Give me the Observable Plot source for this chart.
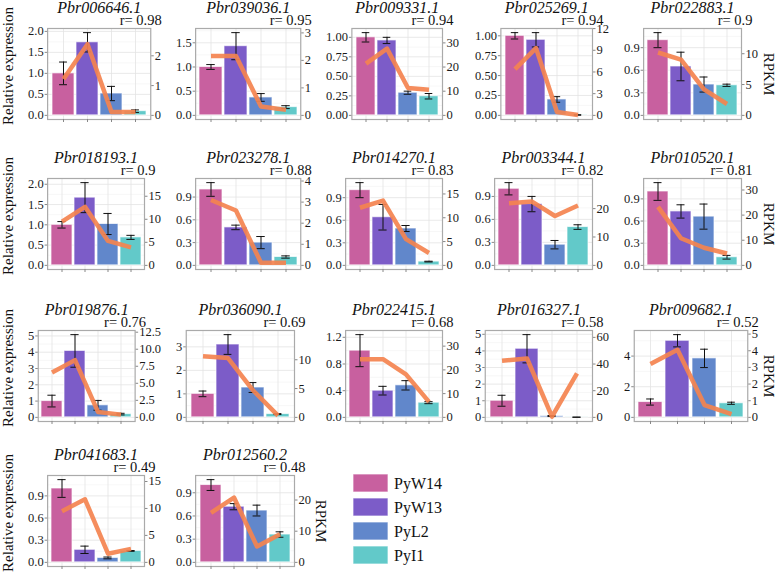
<!DOCTYPE html>
<html><head><meta charset="utf-8">
<script src="https://cdn.jsdelivr.net/npm/d3@7"></script>
<script src="https://cdn.jsdelivr.net/npm/@observablehq/plot@0.6"></script>
<style>
body{margin:0;background:#fff;}
#chart{position:relative;width:778px;height:573px;overflow:hidden;font-family:"Liberation Serif","Times New Roman",serif;background:#fff;}
#chart svg{position:absolute;overflow:visible;}
</style></head><body><div id="chart"></div>
<script>
const samples = ["PyW14", "PyW13", "PyL2", "PyI1"];
const sampleColors = ["#C8609F", "#7C5CC8", "#6187CB", "#62C9C9"];
const genes = ["Pbr006646.1","Pbr039036.1","Pbr009331.1","Pbr025269.1","Pbr022883.1",
  "Pbr018193.1","Pbr023278.1","Pbr014270.1","Pbr003344.1","Pbr010520.1",
  "Pbr019876.1","Pbr036090.1","Pbr022415.1","Pbr016327.1","Pbr009682.1",
  "Pbr041683.1","Pbr012560.2"];
const rValues = [0.98,0.95,0.94,0.94,0.9,0.9,0.88,0.83,0.82,0.81,0.76,0.69,0.68,0.58,0.52,0.49,0.48];
// relative expression (bars)
const relExpr = [
  [1,1.74,0.52,0.10],[1,1.43,0.37,0.17],[1,0.96,0.29,0.245],[1,0.95,0.20,0.005],[1,0.65,0.41,0.40],
  [1,1.67,1.02,0.69],[1,0.50,0.30,0.11],[1,0.64,0.49,0.05],[1,0.80,0.27,0.50],[1,0.73,0.66,0.11],
  [1,4.08,0.74,0.20],[1,3.10,1.27,0.14],[1,0.40,0.48,0.22],[1,4.13,0.08,0.01],[1,5.00,3.85,0.92],
  [1,0.17,0.06,0.155],[1,0.72,0.67,0.36]
];
// error (±)
const relErr = [
  [0.27,0.23,0.17,0.03],[0.05,0.28,0.08,0.03],[0.06,0.04,0.02,0.035],[0.04,0.09,0.035,0.003],[0.10,0.19,0.10,0.015],
  [0.08,0.37,0.26,0.05],[0.09,0.03,0.08,0.015],[0.10,0.17,0.04,0.005],[0.08,0.10,0.055,0.03],[0.12,0.09,0.17,0.025],
  [0.36,1.00,0.30,0.05],[0.12,0.42,0.21,0.02],[0.24,0.065,0.07,0.015],[0.33,0.85,0.03,0.005],[0.20,0.40,0.60,0.07],
  [0.12,0.05,0.012,0.005],[0.07,0.04,0.07,0.035]
];
// RPKM (line, secondary axis)
const rpkm = [
  [1.22,2.39,0.11,0.11],[2.16,2.16,0.32,0.20],[21.4,27.6,11.3,10.6],[6.4,9.3,0.46,0.05],[10.2,9.05,4.2,1.84],
  [9.5,12.7,5.3,3.9],[3.1,2.6,0.12,0.12],[12.1,13.6,5.5,2.6],[21.9,22.5,17.4,21.1],[23.3,10.8,7.0,4.7],
  [6.6,8.4,0.8,0.4],[10.6,10.3,4.7,0.3],[24.5,24.5,18.1,6.5],[42.5,44.2,0.5,33],[3.2,4.06,0.74,0.2],
  [9.5,11.7,1.6,2.5],[15.9,20.8,5.1,9.0]
];
// secondary axis factor: RPKM per unit of relative expression
const rpkmPerRel = [1.41,1.76,32.3,11.0,12.2, 8.8,3.6,15.8,27,29.4, 2.39,4.08,28.1,12.46,0.92, 13.7,24.8];
const leftTicks = [
  [0,0.5,1,1.5,2],[0,0.5,1,1.5],[0,0.25,0.5,0.75,1],[0,0.25,0.5,0.75,1],[0,0.3,0.6,0.9],
  [0,0.5,1,1.5,2],[0,0.3,0.6,0.9],[0,0.3,0.6,0.9],[0,0.3,0.6,0.9],[0,0.3,0.6,0.9],
  [0,1,2,3,4,5],[0,1,2,3],[0,0.4,0.8,1.2],[0,1,2,3,4,5],[0,2,4],
  [0,0.3,0.6,0.9],[0,0.3,0.6,0.9]
];
const rightTicks = [
  [0,1,2],[0,1,2,3],[0,10,20,30],[0,3,6,9,12],[0,5,10],
  [0,5,10,15],[0,1,2,3,4],[0,5,10,15],[0,10,20],[0,10,20,30],
  [0,2.5,5,7.5,10,12.5],[0,5,10],[0,10,20,30],[0,20,40,60],[0,1,2,3,4,5],
  [0,5,10,15],[0,10,20]
];
const yTitle = "Relative expression";
const y2Title = "RPKM";

// ---- layout ----
const rowTops = [28, 178, 330, 475];
const frameH = 91;
const cellLefts = [27, 175, 325, 474, 623];
const cellRights = [161, 311, 459, 609, 758];
const tickFont = 12.5;
const FONT = '"Liberation Serif", "Times New Roman", serif';
const orange = "#F4834F";

const chart = document.getElementById("chart");
const ctx = document.createElement("canvas").getContext("2d");
ctx.font = `${tickFont}px "Liberation Serif"`;
const tw = s => ctx.measureText(s).width;
const decimals = ts => d3.max(ts, t => (String(t).split(".")[1] || "").length);

genes.forEach((gene, i) => {
  const row = Math.floor(i / 5), col = i % 5;
  const k = rpkmPerRel[i];
  const data = samples.map((s, j) => ({s, v: relExpr[i][j], e: relErr[i][j], r: rpkm[i][j]}));
  const M = d3.max(data, d => Math.max(d.v + d.e, d.r / k));
  const lo = -0.05 * M, hi = 1.05 * M;
  const lt = leftTicks[i], rt = rightTicks[i];
  const dl = decimals(lt), dr = decimals(rt);
  const fmtL = t => (+t).toFixed(dl);
  const fmtR = t => (Math.round(t * 1e6) / 1e6).toFixed(dr);
  const lw = d3.max(lt, t => tw(fmtL(t)));
  const rw = d3.max(rt, t => tw(fmtR(t)));
  const ml = lw + 4.5, mr = rw + 4.5;
  const cl = cellLefts[col], cr = cellRights[col];
  const W = cr - cl;
  const fw = W - ml - mr;
  const bw = fw / 4.2 * 0.9;
  const inset = Math.max(0, (bw - 8) / 2);
  const mt = 34, mb = 10;
  const step = lt[1] - lt[0];
  const minors = [];
  for (let t = lt[0] + step / 2; t < hi; t += step) minors.push(t);

  const svg = Plot.plot({
    width: W, height: mt + frameH + mb,
    marginLeft: ml, marginRight: mr, marginTop: mt, marginBottom: mb,
    style: {fontFamily: FONT, fontSize: tickFont + "px", overflow: "visible", background: "transparent", color: "#1a1a1a"},
    x: {type: "band", domain: samples, paddingInner: 0.1, paddingOuter: 0.15},
    y: {domain: [lo, hi]},
    color: {domain: samples, range: sampleColors},
    marks: [
      Plot.gridY(minors, {stroke: "#f1f1f1", strokeOpacity: 1, strokeWidth: 0.6}),
      Plot.gridY(lt, {stroke: "#e3e3e3", strokeOpacity: 1, strokeWidth: 0.8}),
      Plot.gridX({stroke: "#e3e3e3", strokeOpacity: 1, strokeWidth: 0.8}),
      Plot.barY(data, {x: "s", y: "v", fill: "s", stroke: "#ffffff", strokeOpacity: 0.7, strokeWidth: 1}),
      Plot.ruleX(data, {x: "s", y1: d => d.v - d.e, y2: d => d.v + d.e, stroke: "#111", strokeWidth: 1}),
      Plot.tickY(data, {x: "s", y: d => d.v - d.e, stroke: "#111", strokeWidth: 1, insetLeft: inset, insetRight: inset}),
      Plot.tickY(data, {x: "s", y: d => d.v + d.e, stroke: "#111", strokeWidth: 1, insetLeft: inset, insetRight: inset}),
      Plot.line(data, {x: "s", y: d => d.r / k, stroke: orange, strokeWidth: 4.5, strokeOpacity: 0.92, strokeLinecap: "butt", strokeLinejoin: "round"}),
      Plot.frame({stroke: "#aaaaaa", strokeWidth: 1.2}),
      Plot.axisY(lt, {anchor: "left", tickSize: 2.5, tickPadding: 1.5, tickFormat: fmtL, stroke: "#888", fill: "#1a1a1a", label: null}),
      Plot.axisY(rt.map(t => t / k), {anchor: "right", tickSize: 2.5, tickPadding: 1.5, tickFormat: d => fmtR(d * k), stroke: "#888", fill: "#1a1a1a", label: null}),
      Plot.axisX({anchor: "bottom", tickSize: 3, tickFormat: () => "", stroke: "#888", label: null}),
      Plot.text([gene], {text: d => d, frameAnchor: "top", dy: -16, lineAnchor: "bottom", fontStyle: "italic", fontSize: 16, fill: "#111"}),
      Plot.text([rValues[i]], {text: d => "r= " + d, frameAnchor: "top-right", dx: 11, dy: -4, lineAnchor: "bottom", textAnchor: "end", fontSize: 14.5, fill: "#111"})
    ]
  });
  svg.style.left = cl + "px";
  svg.style.top = (rowTops[row] - mt) + "px";
  chart.appendChild(svg);
});

// overlay: axis titles and legend
const ov = d3.select(chart).append("svg")
  .attr("width", 778).attr("height", 573)
  .style("left", "0px").style("top", "0px")
  .style("font-family", FONT);
rowTops.forEach(t => {
  ov.append("text").attr("transform", `translate(13,${t + 38}) rotate(-90)`)
    .attr("text-anchor", "middle").attr("font-size", 15).attr("fill", "#111").text(yTitle);
});
[[764, rowTops[0]], [764, rowTops[1]], [764, rowTops[2]], [316, rowTops[3]]].forEach(([x, t]) => {
  ov.append("text").attr("transform", `translate(${x},${t + 46}) rotate(90)`)
    .attr("text-anchor", "middle").attr("font-size", 15).attr("fill", "#111").text(y2Title);
});
const lg = ov.append("g").attr("transform", "translate(353,474)");
samples.forEach((s, j) => {
  lg.append("rect").attr("x", 0).attr("y", j * 24).attr("width", 35).attr("height", 18)
    .attr("fill", sampleColors[j]).attr("stroke", "#ffffff").attr("stroke-opacity", 0.7);
  lg.append("text").attr("x", 41).attr("y", j * 24 + 9).attr("dy", "0.35em")
    .attr("font-size", 16).attr("fill", "#111").text(s);
});
</script>
</body></html>
